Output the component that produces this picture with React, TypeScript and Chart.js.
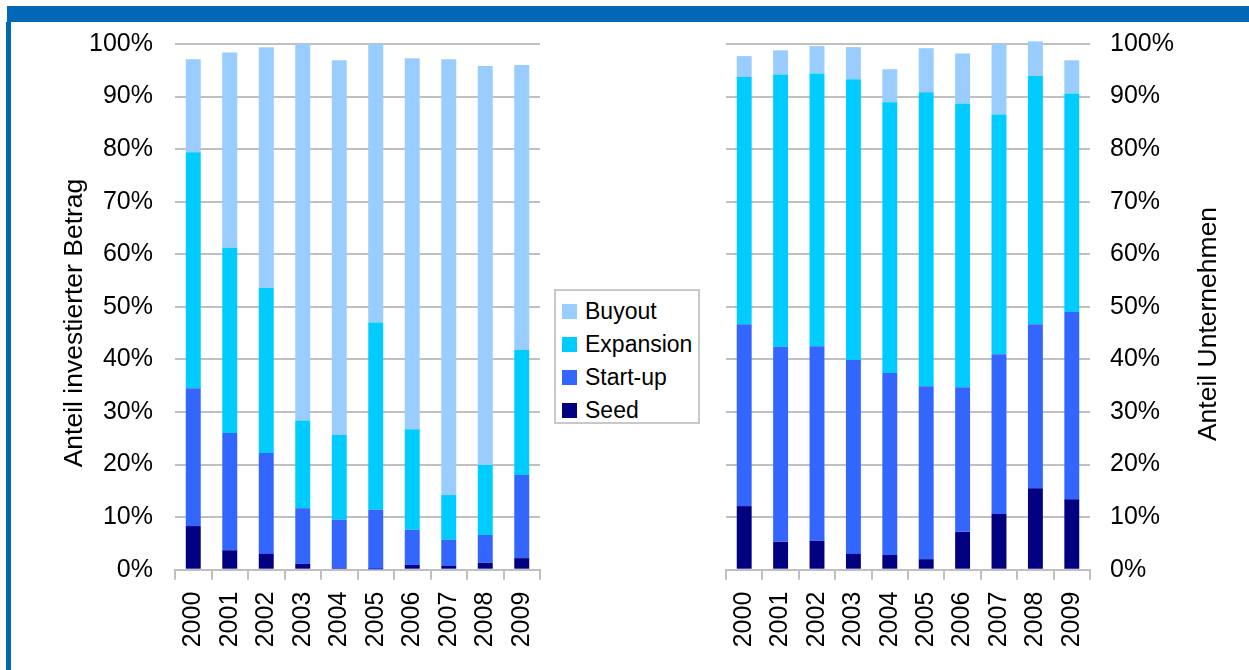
import React, { useEffect, useRef } from "react";
import { Chart, registerables } from "chart.js";

Chart.register(...registerables);

const categories = ["2000", "2001", "2002", "2003", "2004", "2005", "2006", "2007", "2008", "2009"];
const seriesNames = ["Seed", "Start-up", "Expansion", "Buyout"];
const seriesColors = ["#000080", "#3366FF", "#00CCFF", "#99CCFF"];
const yTickValues = [0, 10, 20, 30, 40, 50, 60, 70, 80, 90, 100];
const leftTitle = "Anteil investierter Betrag";
const rightTitle = "Anteil Unternehmen";

// Anteil investierter Betrag (%)
const amountSeed = [8.3, 3.7, 3.0, 1.1, 0.3, 0.1, 0.9, 0.7, 1.3, 2.2];
const amountStartup = [26.2, 22.3, 19.2, 10.6, 9.2, 11.3, 6.7, 5.0, 5.3, 15.8];
const amountExpansion = [44.9, 35.2, 31.4, 16.7, 16.1, 35.6, 19.1, 8.5, 13.3, 23.8];
const amountBuyout = [17.7, 37.2, 45.8, 71.6, 71.3, 53.0, 70.6, 82.9, 75.9, 54.2];

// Anteil Unternehmen (%)
const firmsSeed = [12.1, 5.3, 5.5, 3.0, 2.8, 2.0, 7.2, 10.6, 15.5, 13.4];
const firmsStartup = [34.6, 37.1, 37.0, 36.9, 34.6, 32.9, 27.5, 30.4, 31.2, 35.6];
const firmsExpansion = [47.0, 51.8, 51.9, 53.4, 51.5, 55.9, 54.0, 45.6, 47.2, 41.6];
const firmsBuyout = [4.0, 4.6, 5.2, 6.1, 6.3, 8.4, 9.5, 13.4, 6.6, 6.3];

const FONT = '"Liberation Sans", Arial, Helvetica, sans-serif';
const GRID = "#C0C0C0";

const sideTitlePlugin = {
  id: "sideTitle",
  afterDraw(chart: any, _args: any, opts: any) {
    const ctx = chart.ctx;
    ctx.save();
    ctx.translate(opts.x, opts.y);
    ctx.rotate(-Math.PI / 2);
    ctx.font = `${opts.size}px ${FONT}`;
    ctx.fillStyle = "#000";
    ctx.textAlign = "center";
    ctx.textBaseline = "middle";
    ctx.fillText(opts.text, 0, 0);
    ctx.restore();
  },
};

function makeConfig(values: number[][], side: "left" | "right", title: string, titleX: number, titleY: number, padding: any, yWidth: number) {
  return {
    type: "bar" as const,
    data: {
      labels: categories,
      datasets: values.map((v, i) => ({
        label: seriesNames[i],
        data: v,
        backgroundColor: seriesColors[i],
        borderWidth: 0,
        categoryPercentage: 1,
        barPercentage: 0.41,
        clip: false,
      })),
    },
    plugins: [sideTitlePlugin],
    options: {
      responsive: false,
      animation: false as const,
      devicePixelRatio: 1,
      layout: { padding },
      plugins: {
        legend: { display: false },
        tooltip: { enabled: false },
        sideTitle: { text: title, x: titleX, y: titleY, size: 26.5 },
      },
      scales: {
        x: {
          stacked: true,
          offset: true,
          grid: {
            display: true,
            offset: true,
            drawOnChartArea: false,
            drawTicks: true,
            tickLength: 10,
            color: GRID,
            lineWidth: 2,
          },
          border: { display: true, color: GRID, width: 2 },
          ticks: {
            autoSkip: false,
            maxRotation: 90,
            minRotation: 90,
            padding: 12,
            color: "#000",
            font: { family: FONT, size: 25 },
          },
          afterFit: (scale: any) => {
            scale.height = 100.3;
            scale.paddingLeft = 0;
            scale.paddingRight = 0;
          },
        },
        y: {
          stacked: true,
          position: side,
          min: 0,
          max: 100,
          afterBuildTicks: (scale: any) => {
            scale.ticks = yTickValues.map((v) => ({ value: v }));
          },
          grid: { color: GRID, lineWidth: 2, drawTicks: false },
          border: { display: false },
          ticks: {
            padding: side === "left" ? 22 : 20,
            color: "#000",
            font: { family: FONT, size: 25 },
            callback: (v: any) => `${v}%`,
          },
          afterFit: (scale: any) => {
            scale.width = yWidth;
            scale.paddingTop = 0;
            scale.paddingBottom = 0;
          },
        },
      },
    },
  };
}

function BarPanel(props: { left: number; width: number; values: number[][]; side: "left" | "right"; title: string; titleX: number; titleY: number; padding: any; yWidth: number }) {
  const ref = useRef<HTMLCanvasElement>(null);
  useEffect(() => {
    if (!ref.current) return;
    const chart = new Chart(
      ref.current,
      makeConfig(props.values, props.side, props.title, props.titleX, props.titleY, props.padding, props.yWidth) as any
    );
    return () => chart.destroy();
  }, []);
  return (
    <canvas
      ref={ref}
      width={props.width}
      height={670}
      style={{ position: "absolute", left: props.left, top: 0, width: props.width, height: 670 }}
    />
  );
}

const legendOrder = [3, 2, 1, 0];

export default function App() {
  return (
    <div style={{ position: "absolute", left: 0, top: 0, width: 1249, height: 670, background: "#fff", overflow: "hidden", fontFamily: FONT }}>
      <BarPanel
        left={0}
        width={548}
        values={[amountSeed, amountStartup, amountExpansion, amountBuyout]}
        side="left"
        title={leftTitle}
        titleX={75}
        titleY={323}
        padding={{ top: 44, right: 8, bottom: 0, left: 0 }}
        yWidth={175}
      />
      <BarPanel
        left={700}
        width={549}
        values={[firmsSeed, firmsStartup, firmsExpansion, firmsBuyout]}
        side="right"
        title={rightTitle}
        titleX={509}
        titleY={324}
        padding={{ top: 44, right: 0, bottom: 0, left: 26 }}
        yWidth={159}
      />
      <div style={{ position: "absolute", left: 7, top: 6, width: 1242, height: 16, background: "#0068B4" }} />
      <div style={{ position: "absolute", left: 6, top: 22, width: 5, height: 648, background: "#0068B4" }} />
      <div
        style={{
          position: "absolute",
          left: 554,
          top: 289,
          width: 142,
          height: 131,
          border: "2px solid #C8C8C8",
          background: "#fff",
        }}
      >
        {legendOrder.map((idx, row) => (
          <div
            key={seriesNames[idx]}
            style={{ position: "absolute", left: 6, top: 7 + row * 33, height: 26, display: "flex", alignItems: "center" }}
          >
            <div style={{ width: 15, height: 15, background: seriesColors[idx], marginRight: 8 }} />
            <span style={{ fontSize: 23, lineHeight: "26px", color: "#000", whiteSpace: "nowrap" }}>{seriesNames[idx]}</span>
          </div>
        ))}
      </div>
    </div>
  );
}
